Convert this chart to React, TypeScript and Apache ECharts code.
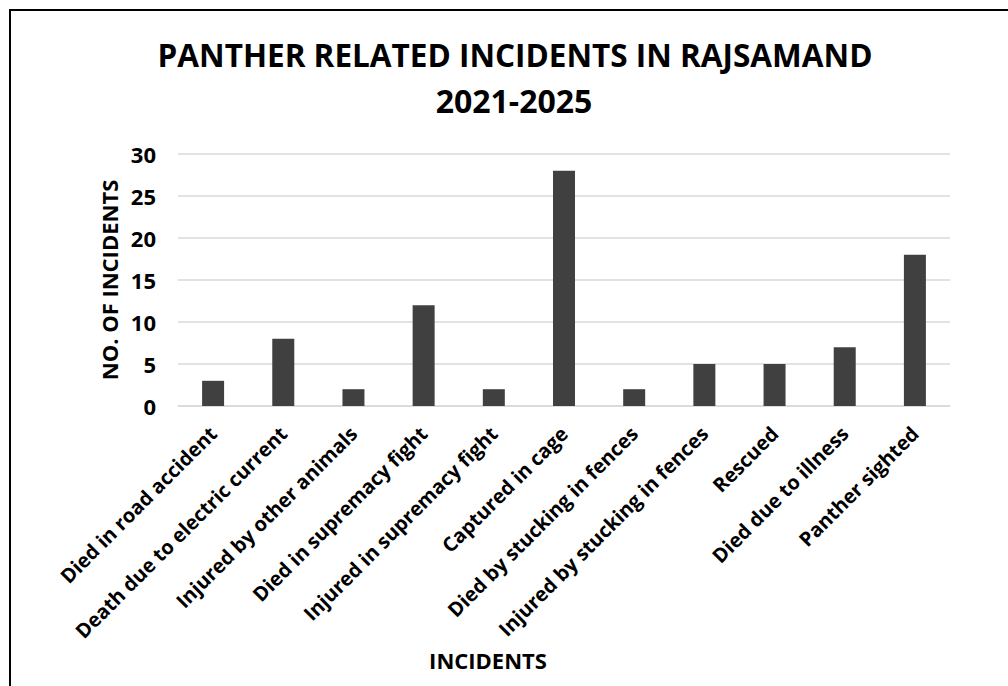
import React, { useEffect, useRef } from "react";
import * as echarts from "echarts";

const categories = [
  "Died in road accident",
  "Death due to electric current",
  "Injured by other animals",
  "Died in supremacy fight",
  "Injured in supremacy fight",
  "Captured in cage",
  "Died by stucking in fences",
  "Injured by stucking in fences",
  "Rescued",
  "Died due to illness",
  "Panther sighted",
];
const incidents = [3, 8, 2, 12, 2, 28, 2, 5, 5, 7, 18];
const titleLines = ["PANTHER RELATED INCIDENTS IN RAJSAMAND", "2021-2025"];
const yAxisTitle = "NO. OF INCIDENTS";
const xAxisTitle = "INCIDENTS";

const FONT = "'Open Sans', 'Noto Sans', sans-serif";

export default function App() {
  const ref = useRef<HTMLDivElement>(null);
  useEffect(() => {
    if (!ref.current) return;
    const chart = echarts.init(ref.current, undefined, { renderer: "svg" });
    chart.setOption({
      animation: false,
      backgroundColor: "#ffffff",
      textStyle: { fontFamily: FONT },
      grid: { left: 178, right: 58, top: 154, bottom: 280 },
      xAxis: {
        type: "category",
        data: categories,
        axisTick: { show: false },
        axisLine: { show: true, lineStyle: { color: "#d9d9d9", width: 1.5 } },
        axisLabel: {
          rotate: 45,
          interval: 0,
          margin: 24,
          color: "#000",
          fontWeight: "bold",
          fontSize: 20,
          fontFamily: FONT,
        },
      },
      yAxis: {
        type: "value",
        min: 0,
        max: 30,
        interval: 5,
        axisLine: { show: false },
        axisTick: { show: false },
        splitLine: { lineStyle: { color: "#d9d9d9", width: 1.5 } },
        axisLabel: {
          margin: 22,
          color: "#000",
          fontWeight: "bold",
          fontSize: 22,
          fontFamily: FONT,
        },
      },
      series: [
        {
          type: "bar",
          data: incidents,
          barWidth: 22,
          itemStyle: { color: "#404040" },
        },
      ],
      graphic: [
        {
          type: "rect",
          shape: { x: 10, y: 10, width: 1100, height: 1000 },
          style: { fill: "none", stroke: "#000", lineWidth: 2 },
          silent: true,
        },
        {
          type: "text",
          x: 515,
          y: 54,
          style: {
            text: titleLines[0],
            fontSize: 31.5,
            fontWeight: "bold",
            fontFamily: FONT,
            fill: "#000",
            align: "center",
            verticalAlign: "middle",
          },
        },
        {
          type: "text",
          x: 514,
          y: 100,
          style: {
            text: titleLines[1],
            fontSize: 32,
            fontWeight: "bold",
            fontFamily: FONT,
            fill: "#000",
            align: "center",
            verticalAlign: "middle",
          },
        },
        {
          type: "text",
          x: 109,
          y: 280,
          rotation: Math.PI / 2,
          style: {
            text: yAxisTitle,
            fontSize: 22,
            fontWeight: "bold",
            fontFamily: FONT,
            fill: "#000",
            align: "center",
            verticalAlign: "middle",
          },
        },
        {
          type: "text",
          x: 488,
          y: 660,
          style: {
            text: xAxisTitle,
            fontSize: 22,
            fontWeight: "bold",
            fontFamily: FONT,
            fill: "#000",
            align: "center",
            verticalAlign: "middle",
          },
        },
      ],
    });
    return () => chart.dispose();
  }, []);
  return (
    <div
      ref={ref}
      style={{ position: "absolute", left: 0, top: 0, width: 1008, height: 686 }}
    />
  );
}
